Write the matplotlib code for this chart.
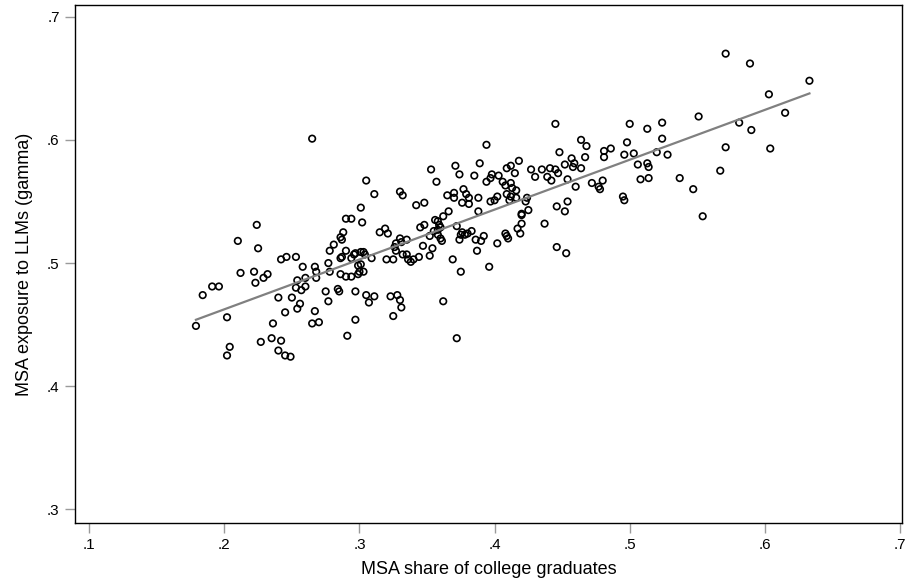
import numpy as np
import matplotlib
matplotlib.use("Agg")
import matplotlib.pyplot as plt

plt.rcParams['font.family'] = ['Liberation Sans', 'DejaVu Sans']

# MSA share of college graduates (x) and MSA exposure to LLMs (y)
grad_share = [
    0.265, 0.445, 0.394, 0.389, 0.418, 0.412, 0.409, 0.427, 0.435, 0.441,
    0.445, 0.464, 0.468, 0.448, 0.457, 0.467, 0.481, 0.486, 0.481, 0.496,
    0.498, 0.500, 0.452, 0.459, 0.458, 0.464, 0.571, 0.589, 0.603, 0.615,
    0.551, 0.581, 0.590, 0.571, 0.604, 0.513, 0.524, 0.524, 0.503, 0.520,
    0.528, 0.506, 0.513, 0.514, 0.567, 0.508, 0.514, 0.537, 0.547, 0.554,
    0.495, 0.496, 0.415, 0.385, 0.394, 0.397, 0.398, 0.403, 0.406, 0.408,
    0.412, 0.413, 0.416, 0.409, 0.412, 0.411, 0.416, 0.424, 0.423, 0.430,
    0.439, 0.442, 0.447, 0.454, 0.460, 0.472, 0.477, 0.478, 0.480, 0.381,
    0.381, 0.388, 0.388, 0.397, 0.400, 0.402, 0.446, 0.454, 0.452, 0.425,
    0.420, 0.420, 0.420, 0.417, 0.419, 0.437, 0.383, 0.386, 0.390, 0.392,
    0.402, 0.408, 0.409, 0.410, 0.387, 0.396, 0.446, 0.453, 0.305, 0.311,
    0.301, 0.302, 0.290, 0.294, 0.288, 0.286, 0.287, 0.281, 0.278, 0.267,
    0.268, 0.268, 0.277, 0.278, 0.286, 0.287, 0.290, 0.294, 0.296, 0.297,
    0.301, 0.303, 0.304, 0.299, 0.301, 0.300, 0.303, 0.299, 0.286, 0.290,
    0.294, 0.309, 0.275, 0.284, 0.285, 0.297, 0.315, 0.319, 0.321, 0.327,
    0.326, 0.330, 0.335, 0.331, 0.327, 0.332, 0.335, 0.336, 0.338, 0.340,
    0.344, 0.320, 0.325, 0.330, 0.332, 0.342, 0.348, 0.345, 0.348, 0.356,
    0.358, 0.359, 0.360, 0.358, 0.355, 0.358, 0.360, 0.361, 0.362, 0.366,
    0.352, 0.347, 0.354, 0.352, 0.369, 0.375, 0.353, 0.357, 0.371, 0.374,
    0.365, 0.370, 0.370, 0.377, 0.379, 0.376, 0.372, 0.376, 0.375, 0.378,
    0.380, 0.374, 0.224, 0.210, 0.225, 0.242, 0.246, 0.253, 0.258, 0.212,
    0.222, 0.223, 0.229, 0.232, 0.254, 0.260, 0.253, 0.257, 0.260, 0.191,
    0.196, 0.184, 0.179, 0.202, 0.204, 0.202, 0.227, 0.235, 0.242, 0.240,
    0.245, 0.249, 0.236, 0.245, 0.240, 0.250, 0.254, 0.256, 0.267, 0.265,
    0.270, 0.277, 0.297, 0.291, 0.305, 0.311, 0.307, 0.323, 0.328, 0.330,
    0.331, 0.325, 0.362, 0.372, 0.633,
]
llm_exposure = [
    0.601, 0.613, 0.596, 0.581, 0.583, 0.579, 0.577, 0.576, 0.576, 0.577,
    0.576, 0.600, 0.595, 0.590, 0.585, 0.586, 0.591, 0.593, 0.586, 0.588,
    0.598, 0.613, 0.580, 0.581, 0.578, 0.577, 0.670, 0.662, 0.637, 0.622,
    0.619, 0.614, 0.608, 0.594, 0.593, 0.609, 0.614, 0.601, 0.589, 0.590,
    0.588, 0.580, 0.581, 0.578, 0.575, 0.568, 0.569, 0.569, 0.560, 0.538,
    0.554, 0.551, 0.573, 0.571, 0.566, 0.569, 0.572, 0.571, 0.566, 0.563,
    0.565, 0.561, 0.559, 0.556, 0.554, 0.551, 0.553, 0.553, 0.550, 0.570,
    0.570, 0.567, 0.573, 0.568, 0.562, 0.565, 0.562, 0.560, 0.567, 0.553,
    0.548, 0.553, 0.542, 0.550, 0.551, 0.554, 0.546, 0.550, 0.542, 0.543,
    0.540, 0.539, 0.532, 0.528, 0.524, 0.532, 0.526, 0.519, 0.518, 0.522,
    0.516, 0.524, 0.522, 0.520, 0.510, 0.497, 0.513, 0.508, 0.567, 0.556,
    0.545, 0.533, 0.536, 0.536, 0.525, 0.521, 0.519, 0.515, 0.510, 0.497,
    0.493, 0.488, 0.500, 0.493, 0.504, 0.505, 0.510, 0.504, 0.507, 0.508,
    0.509, 0.509, 0.507, 0.498, 0.499, 0.493, 0.493, 0.491, 0.491, 0.489,
    0.489, 0.504, 0.477, 0.479, 0.477, 0.477, 0.525, 0.528, 0.524, 0.516,
    0.513, 0.520, 0.519, 0.517, 0.510, 0.507, 0.507, 0.503, 0.501, 0.503,
    0.505, 0.503, 0.503, 0.558, 0.555, 0.547, 0.549, 0.529, 0.531, 0.535,
    0.534, 0.531, 0.529, 0.527, 0.526, 0.523, 0.520, 0.518, 0.538, 0.542,
    0.522, 0.514, 0.512, 0.506, 0.503, 0.493, 0.576, 0.566, 0.579, 0.572,
    0.555, 0.557, 0.553, 0.560, 0.556, 0.549, 0.530, 0.525, 0.523, 0.523,
    0.524, 0.519, 0.531, 0.518, 0.512, 0.503, 0.505, 0.505, 0.497, 0.492,
    0.493, 0.484, 0.488, 0.491, 0.486, 0.488, 0.480, 0.478, 0.481, 0.481,
    0.481, 0.474, 0.449, 0.456, 0.432, 0.425, 0.436, 0.439, 0.437, 0.429,
    0.425, 0.424, 0.451, 0.460, 0.472, 0.472, 0.463, 0.467, 0.461, 0.451,
    0.452, 0.469, 0.454, 0.441, 0.474, 0.473, 0.468, 0.473, 0.474, 0.470,
    0.464, 0.457, 0.469, 0.439, 0.648,
]

x_ticks = [0.1, 0.2, 0.3, 0.4, 0.5, 0.6, 0.7]
x_tick_labels = ['.1', '.2', '.3', '.4', '.5', '.6', '.7']
y_ticks = [0.3, 0.4, 0.5, 0.6, 0.7]
y_tick_labels = ['.3', '.4', '.5', '.6', '.7']

x = np.array(grad_share)
y = np.array(llm_exposure)

fig = plt.figure(figsize=(9.07, 5.87), dpi=100)
ax = fig.add_axes([75 / 907, 64 / 587, 827 / 907, 518 / 587])

ax.scatter(x, y, s=22, facecolors='none', edgecolors='black', linewidths=1.2, zorder=2)

# linear fit line
slope, intercept = np.polyfit(x, y, 1)
xx = np.array([x.min(), x.max()])
ax.plot(xx, intercept + slope * xx, color='#808080', lw=1.6, zorder=3)

ax.set_xlim(0.0895, 0.7015)
ax.set_ylim(0.289, 0.7095)
ax.set_xticks(x_ticks)
ax.set_xticklabels(x_tick_labels)
ax.set_yticks(y_ticks)
ax.set_yticklabels(y_tick_labels)
ax.tick_params(direction='out', length=7, width=1, color='#9a9a9a', labelsize=11, pad=4)

for sp in ax.spines.values():
    sp.set_color('black')
    sp.set_linewidth(1)

ax.set_xlabel('MSA share of college graduates', fontsize=13, labelpad=6)
ax.set_ylabel('MSA exposure to LLMs (gamma)', fontsize=13, labelpad=10)

fig.savefig('out.png', dpi=100)
